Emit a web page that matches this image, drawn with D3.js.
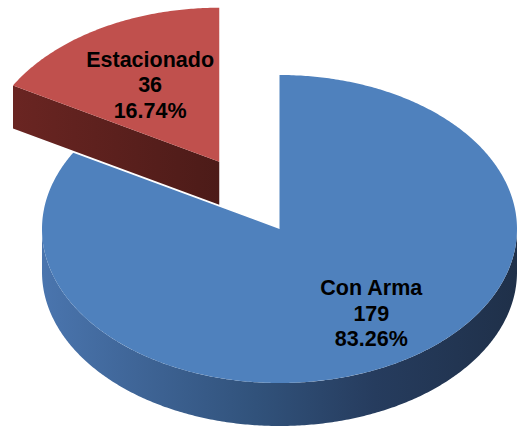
<!DOCTYPE html>
<html>
<head>
<meta charset="utf-8">
<script src="https://cdn.jsdelivr.net/npm/d3@7/dist/d3.min.js"></script>
<style>
  body { margin: 0; background: #fff; }
  text { font-family: "Liberation Sans", Arial, sans-serif; font-weight: bold; }
</style>
</head>
<body>
<script>
var categories = ["Con Arma", "Estacionado"];
var values = [179, 36];
var colors = ["#4f81bd", "#c0504d"];

var W = 517, H = 429;
var cx = 279.5, cy = 229, rx = 237.5, ry = 154, depth = 43;
var explode = [0, 0.505];

var svg = d3.select("body")
      .append("svg")
      .attr("width", W)
      .attr("height", H)

var defs = svg.append("defs");

var gb = defs.append("linearGradient")
    .attr("id", "blueSide")
    .attr("gradientUnits", "userSpaceOnUse")
    .attr("x1", cx - rx).attr("x2", cx + rx)
    .attr("y1", 0).attr("y2", 0);
[["0%", "#4a75ae"], ["20%", "#3f6597"], ["45%", "#31527b"], ["70%", "#263c5e"], ["100%", "#1f3049"]]
  .forEach(function(s) { gb.append("stop").attr("offset", s[0]).attr("stop-color", s[1]); });

var gr = defs.append("linearGradient")
    .attr("id", "redSide")
    .attr("x1", 0).attr("x2", 1).attr("y1", 0).attr("y2", 0);
[["0%", "#6a2522"], ["100%", "#4c1b18"]]
  .forEach(function(s) { gr.append("stop").attr("offset", s[0]).attr("stop-color", s[1]); });

var total = d3.sum(values);
var pie = d3.pie().sort(null).value(function(d) { return d; });
var arcs = pie(values);

// ellipse projection of angle a (clockwise from top), radius frac t, z offset
function P(o, a, t, z) {
  return [o[0] + t * rx * Math.sin(a), o[1] - t * ry * Math.cos(a) + (z || 0)];
}

function origin(d, i) {
  var m = (d.startAngle + d.endAngle) / 2;
  var e = explode[i];
  return [cx + e * rx * Math.sin(m), cy - e * ry * Math.cos(m)];
}

var line = d3.line();

function arcPts(o, a0, a1, z) {
  var n = Math.max(2, Math.ceil(Math.abs(a1 - a0) / 0.01));
  return d3.range(n + 1).map(function(k) { return P(o, a0 + (a1 - a0) * k / n, 1, z); });
}

function topPath(o, d) {
  var pts = [o].concat(arcPts(o, d.startAngle, d.endAngle, 0));
  return line(pts) + "Z";
}

function outerSide(o, a0, a1) {
  var top = arcPts(o, a0, a1, 0);
  var bot = arcPts(o, a0, a1, depth).reverse();
  return line(top.concat(bot)) + "Z";
}

function radialSide(o, a) {
  var pts = [o, P(o, a, 1, 0), P(o, a, 1, depth), [o[0], o[1] + depth]];
  return line(pts) + "Z";
}

// red slice (back), then blue slice (front)
var red = arcs[1], blue = arcs[0];
var oR = origin(red, 1), oB = origin(blue, 0);

svg.append("path").attr("d", radialSide(oR, red.startAngle)).attr("fill", "url(#redSide)");
svg.append("path").attr("d", topPath(oR, red)).attr("fill", colors[1]);

svg.append("path").attr("d", outerSide(oB, Math.PI / 2, 3 * Math.PI / 2)).attr("fill", "url(#blueSide)");
svg.append("path").attr("d", topPath(oB, blue)).attr("fill", colors[0]);

// labels
var labelT = [0.77, 0.58];
var labelDy = [-18, 1];
arcs.forEach(function(d, i) {
  var o = origin(d, i);
  var m = (d.startAngle + d.endAngle) / 2;
  var p = P(o, m, labelT[i], labelDy[i]);
  var lines = [categories[i], String(values[i]), d3.format(".2f")(values[i] / total * 100) + "%"];
  var t = svg.append("text")
    .attr("text-anchor", "middle")
    .attr("font-size", "21.5px")
    .attr("fill", "#000");
  lines.forEach(function(s, k) {
    t.append("tspan")
      .attr("x", p[0])
      .attr("y", p[1] + (k - 1) * 25.5 + 7)
      .text(s);
  });
});
</script>
</body>
</html>
